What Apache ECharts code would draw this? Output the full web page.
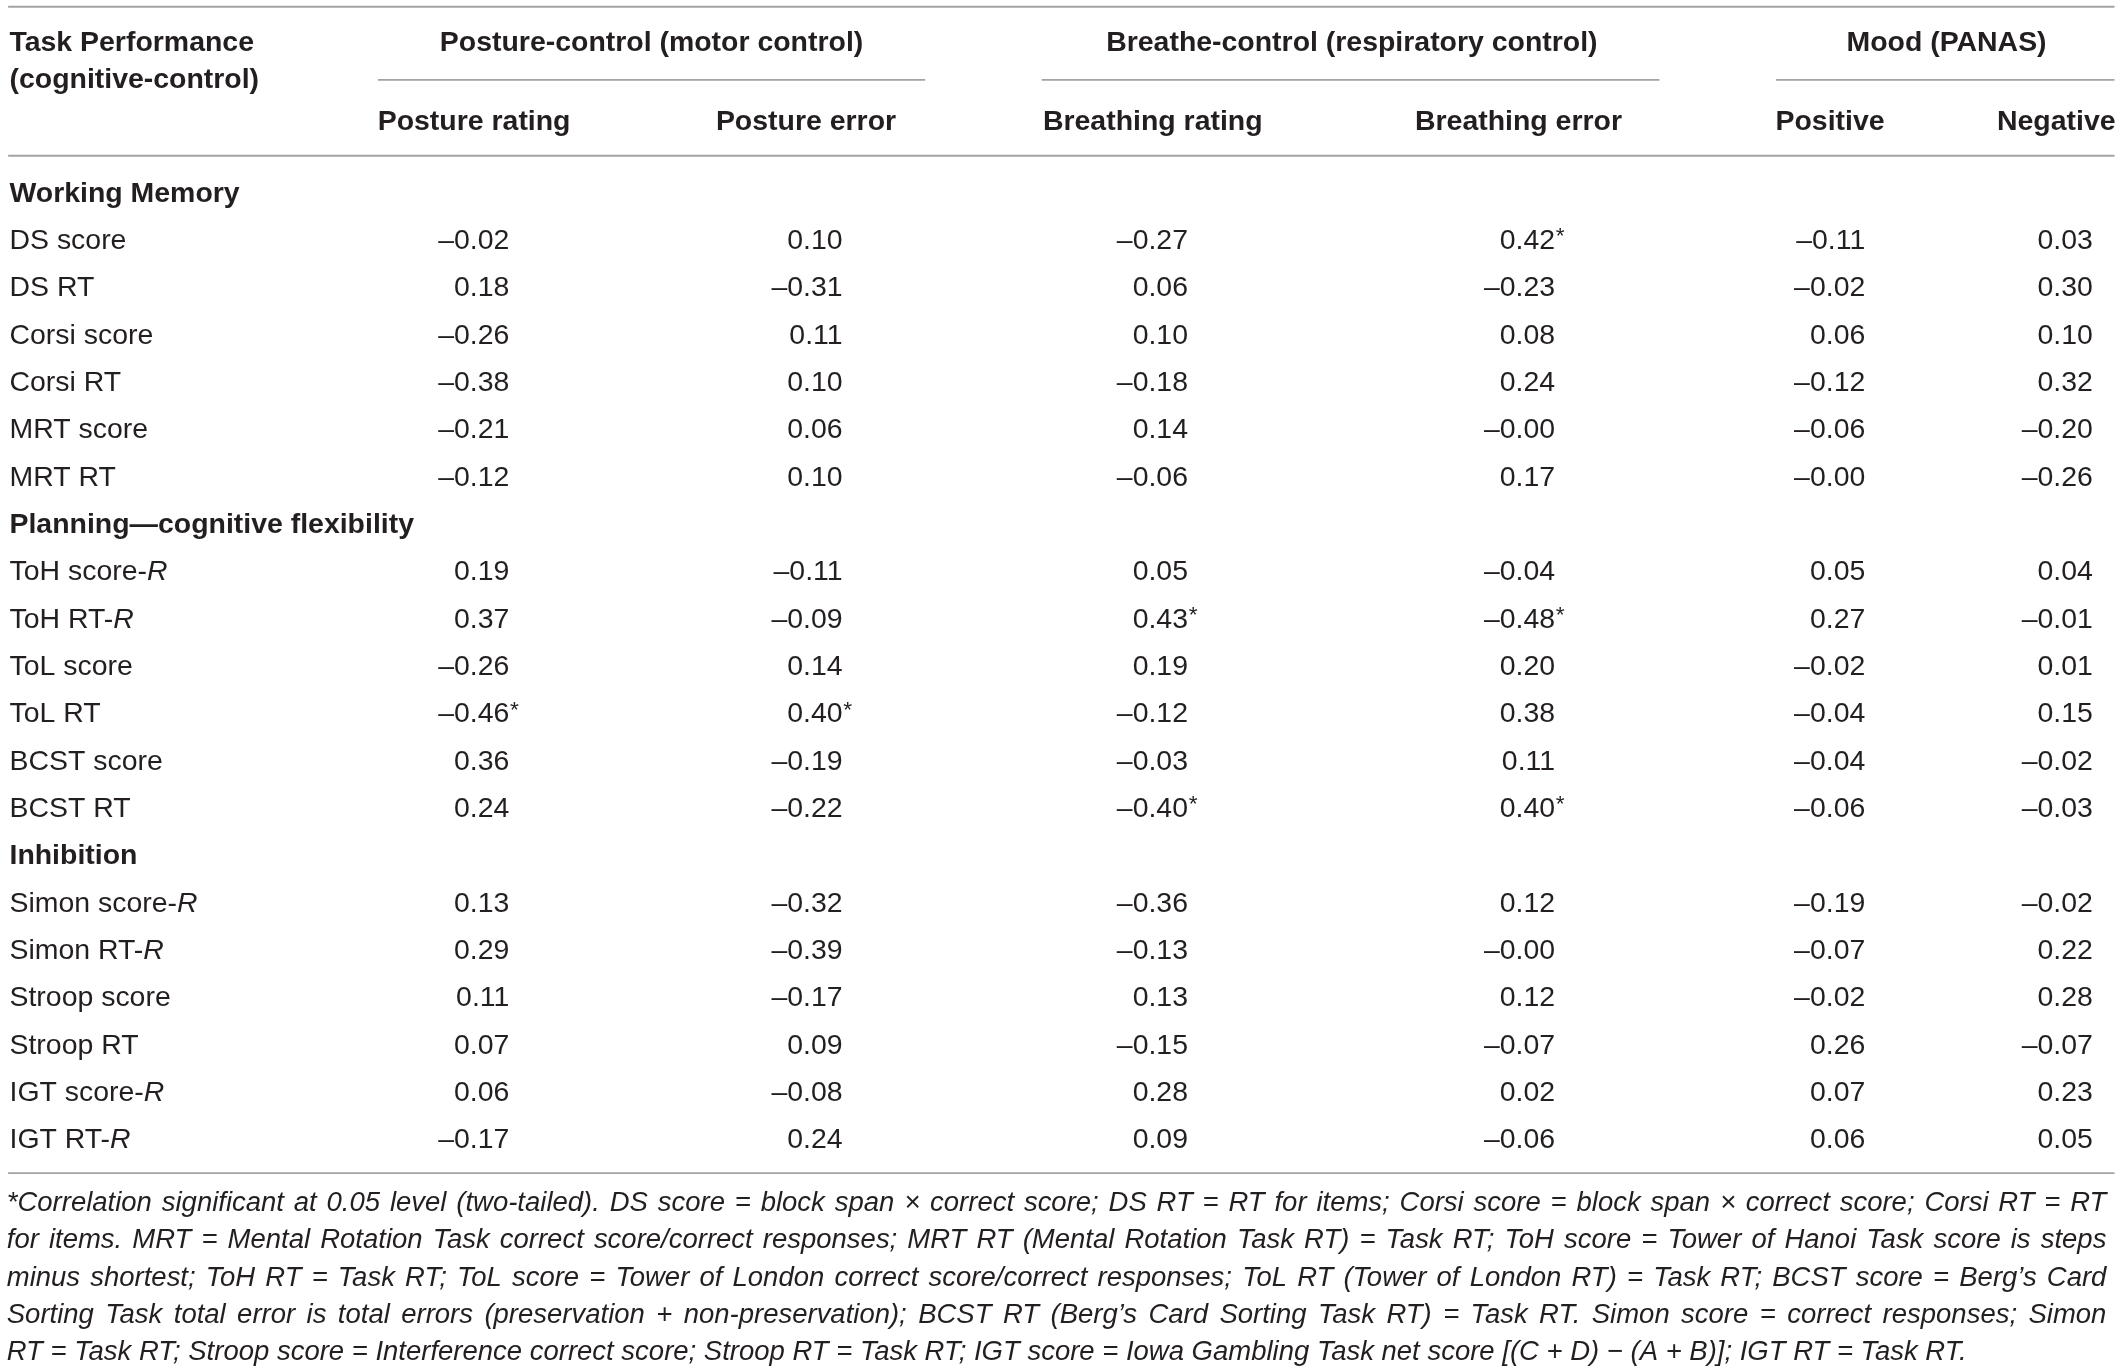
<!DOCTYPE html>
<html><head><meta charset="utf-8">
<script src="https://cdn.jsdelivr.net/npm/echarts@6/dist/echarts.min.js"></script>
<style>html,body{margin:0;padding:0;background:#fff}#c{width:2124px;height:1371px}</style>
</head><body><div id="c"></div>
<script>
// ---------------- data ----------------
const stubHeader = ['Task Performance', '(cognitive-control)'];
const groupHeaders = ['Posture-control (motor control)', 'Breathe-control (respiratory control)', 'Mood (PANAS)'];
const columnHeaders = ['Posture rating', 'Posture error', 'Breathing rating', 'Breathing error', 'Positive', 'Negative'];
const groupRows = ['Working Memory', 'Planning\u2014cognitive flexibility', 'Inhibition'];
const rowLabels = [
  'Working Memory', 'DS score', 'DS RT', 'Corsi score', 'Corsi RT', 'MRT score', 'MRT RT',
  'Planning\u2014cognitive flexibility', 'ToH score-R', 'ToH RT-R', 'ToL score', 'ToL RT', 'BCST score', 'BCST RT',
  'Inhibition', 'Simon score-R', 'Simon RT-R', 'Stroop score', 'Stroop RT', 'IGT score-R', 'IGT RT-R'
];
const itemRows = rowLabels.filter(r => groupRows.indexOf(r) < 0);
const postureRating   = [-0.02, 0.18, -0.26, -0.38, -0.21, -0.12, 0.19, 0.37, -0.26, -0.46, 0.36, 0.24, 0.13, 0.29, 0.11, 0.07, 0.06, -0.17];
const postureError    = [0.10, -0.31, 0.11, 0.10, 0.06, 0.10, -0.11, -0.09, 0.14, 0.40, -0.19, -0.22, -0.32, -0.39, -0.17, 0.09, -0.08, 0.24];
const breathingRating = [-0.27, 0.06, 0.10, -0.18, 0.14, -0.06, 0.05, 0.43, 0.19, -0.12, -0.03, -0.40, -0.36, -0.13, 0.13, -0.15, 0.28, 0.09];
const breathingError  = [0.42, -0.23, 0.08, 0.24, -0.00, 0.17, -0.04, -0.48, 0.20, 0.38, 0.11, 0.40, 0.12, -0.00, 0.12, -0.07, 0.02, -0.06];
const moodPositive    = [-0.11, -0.02, 0.06, -0.12, -0.06, -0.00, 0.05, 0.27, -0.02, -0.04, -0.04, -0.06, -0.19, -0.07, -0.02, 0.26, 0.07, 0.06];
const moodNegative    = [0.03, 0.30, 0.10, 0.32, -0.20, -0.26, 0.04, -0.01, 0.01, 0.15, -0.02, -0.03, -0.02, 0.22, 0.28, -0.07, 0.23, 0.05];
const columns = [postureRating, postureError, breathingRating, breathingError, moodPositive, moodNegative];
const significant = [
  ['DS score', 'Breathing error'],
  ['ToH RT-R', 'Breathing rating'], ['ToH RT-R', 'Breathing error'],
  ['ToL RT', 'Posture rating'], ['ToL RT', 'Posture error'],
  ['BCST RT', 'Breathing rating'], ['BCST RT', 'Breathing error']
];
const footnoteLines = [
  '*Correlation significant at 0.05 level (two-tailed). DS score = block span \u00d7 correct score; DS RT = RT for items; Corsi score = block span \u00d7 correct score; Corsi RT = RT',
  'for items. MRT = Mental Rotation Task correct score/correct responses; MRT RT (Mental Rotation Task RT) = Task RT; ToH score = Tower of Hanoi Task score is steps',
  'minus shortest; ToH RT = Task RT; ToL score = Tower of London correct score/correct responses; ToL RT (Tower of London RT) = Task RT; BCST score = Berg\u2019s Card',
  'Sorting Task total error is total errors (preservation + non-preservation); BCST RT (Berg\u2019s Card Sorting Task RT) = Task RT. Simon score = correct responses; Simon',
  'RT = Task RT; Stroop score = Interference correct score; Stroop RT = Task RT; IGT score = Iowa Gambling Task net score [(C + D) \u2212 (A + B)]; IGT RT = Task RT.'
];

// ---------------- layout (design units, scaled) ----------------
const S = 2124 / 1568;
const px = d => d * S;
const FONT = '"Liberation Sans", Arial, Helvetica, sans-serif';
const INK = '#231f20';
const RULE = '#a3a3a3';
const FS = px(21);
const FS_NOTE = px(20.3);
const ROW0 = 143, ROWH = 34.95;
const colRight = [376, 622, 877, 1148, 1377, 1545];
const colHeadCenter = [350, 595, 851, 1121, 1351, 1518];
const groupCenter = [481, 998, 1437];
const groupRule = [[279, 683], [769, 1225], [1311, 1561]];

function fmt(v) {
  const neg = v < 0 || Object.is(v, -0);
  return (neg ? '\u2013' : '') + Math.abs(v).toFixed(2);
}

const cells = [];
columns.forEach((col, ci) => {
  col.forEach((v, ri) => {
    const name = itemRows[ri];
    const sig = significant.some(s => s[0] === name && s[1] === columnHeaders[ci]);
    cells.push({ col: ci, row: rowLabels.indexOf(name), text: fmt(v), sig });
  });
});

// graphic: rules, headers, footnote
const graphic = [];
function hline(y, x1, x2) {
  graphic.push({ type: 'line', shape: { x1: px(x1), y1: px(y), x2: px(x2), y2: px(y) },
    style: { stroke: RULE, lineWidth: px(1.4) }, silent: true });
}
function txt(t, x, y, align, bold, size, italic) {
  graphic.push({ type: 'text', x: px(x), y: px(y), silent: true,
    style: { text: t, fill: INK, textAlign: align, align: align, textVerticalAlign: 'middle', verticalAlign: 'middle',
      fontFamily: FONT, fontSize: size || FS, fontWeight: bold ? 'bold' : 'normal', fontStyle: italic ? 'italic' : 'normal' } });
}
hline(5, 6, 1561);
groupRule.forEach(r => hline(59, r[0], r[1]));
hline(115, 6, 1561);
hline(866, 6, 1561);
txt(stubHeader[0], 7, 31.5, 'left', true);
txt(stubHeader[1], 7, 59.5, 'left', true);
groupHeaders.forEach((g, i) => txt(g, groupCenter[i], 31.5, 'center', true));
columnHeaders.forEach((h, i) => txt(h, colHeadCenter[i], 90.5, 'center', true));

// footnote, justified
const ctx = document.createElement('canvas').getContext('2d');
ctx.font = 'italic ' + FS_NOTE + 'px ' + FONT;
const noteLeft = 5, noteRight = 1555, noteY0 = 888.5, noteDY = 27.5;
footnoteLines.forEach((line, li) => {
  const y = noteY0 + li * noteDY;
  if (li === footnoteLines.length - 1) { txt(line, noteLeft, y, 'left', false, FS_NOTE, true); return; }
  const words = line.split(' ');
  const widths = words.map(w => ctx.measureText(w).width);
  const total = widths.reduce((a, b) => a + b, 0);
  const gap = (px(noteRight - noteLeft) - total) / (words.length - 1);
  let x = px(noteLeft);
  words.forEach((w, wi) => {
    graphic.push({ type: 'text', x: x, y: px(y), silent: true,
      style: { text: w, fill: INK, textAlign: 'left', align: 'left', textVerticalAlign: 'middle', verticalAlign: 'middle',
        fontFamily: FONT, fontSize: FS_NOTE, fontStyle: 'italic' } });
    x += widths[wi] + gap;
  });
});

const chart = echarts.init(document.getElementById('c'), null, { renderer: 'canvas' });
chart.setOption({
  backgroundColor: '#ffffff',
  animation: false,
  grid: { left: px(7), right: 0, top: px(ROW0 - ROWH / 2), height: px(ROWH * rowLabels.length), containLabel: false },
  xAxis: { type: 'value', min: 7, max: 1568, show: false },
  yAxis: {
    type: 'category', data: rowLabels, inverse: true,
    axisLine: { show: false }, axisTick: { show: false }, splitLine: { show: false },
    axisLabel: {
      inside: false, margin: 0, align: 'left', color: INK, fontFamily: FONT, fontSize: FS,
      formatter: v => {
        if (groupRows.indexOf(v) >= 0) return '{b|' + v + '}';
        if (/-R$/.test(v)) return v.slice(0, -1) + '{i|R}';
        return v;
      },
      rich: {
        b: { fontFamily: FONT, fontSize: FS, fontWeight: 'bold', color: INK },
        i: { fontFamily: FONT, fontSize: FS, fontStyle: 'italic', color: INK }
      }
    }
  },
  graphic: graphic,
  series: [{
    type: 'custom',
    coordinateSystem: 'cartesian2d',
    data: cells.map(c => [colRight[c.col], c.row]),
    renderItem: (params, api) => {
      const c = cells[params.dataIndex];
      const p = api.coord([api.value(0), api.value(1)]);
      const base = { fill: INK, fontFamily: FONT, fontSize: FS, textVerticalAlign: 'middle', verticalAlign: 'middle' };
      const children = [{ type: 'text', x: p[0], y: p[1], style: Object.assign({ text: c.text, textAlign: 'right', align: 'right' }, base) }];
      if (c.sig) children.push({ type: 'text', x: p[0] + px(0.5), y: p[1] - px(3), style: Object.assign({ text: '*', textAlign: 'left', align: 'left' }, base, { fontSize: FS * 0.8 }) });
      return { type: 'group', children };
    }
  }]
});
</script></body></html>
